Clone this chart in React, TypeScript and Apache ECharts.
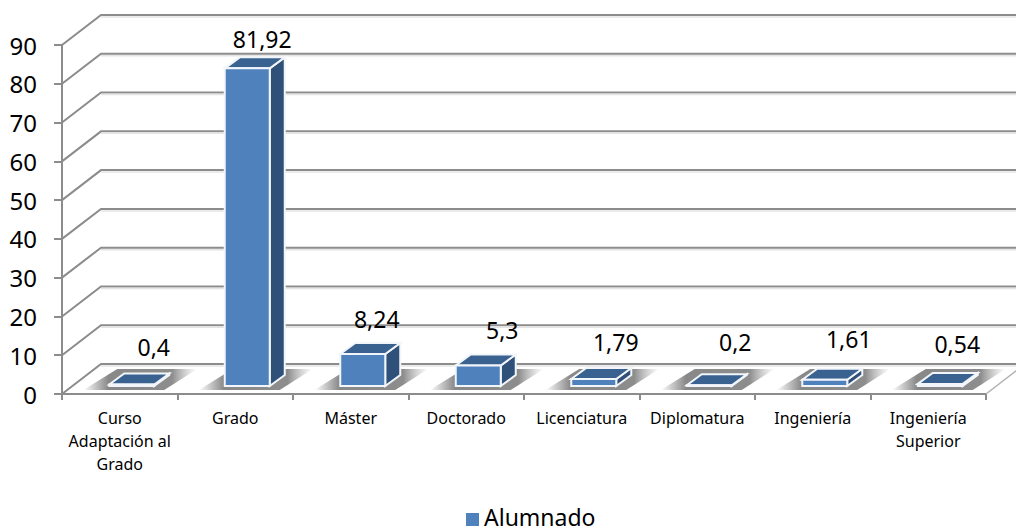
import React, { useEffect, useRef } from "react";
import * as echarts from "echarts";

const categories = ["Curso\nAdaptación al\nGrado", "Grado", "Máster", "Doctorado", "Licenciatura", "Diplomatura", "Ingeniería", "Ingeniería\nSuperior"];
const values = [0.4, 81.92, 8.24, 5.3, 1.79, 0.2, 1.61, 0.54];
const valueLabels = ["0,4", "81,92", "8,24", "5,3", "1,79", "0,2", "1,61", "0,54"];
const gridValues = [0, 10, 20, 30, 40, 50, 60, 70, 80, 90];
const seriesName = "Alumnado";

const labelNudgeX = [34, 27, 26, 36, 34, 38, 36, 29];
const labelNudgeY = [-37, -29, -35, -35, -37, -43, -41, -40];

const WALL_DX = 39, WALL_DY = -30;
const BAR_DX = 15, BAR_DY = -11;
const BAR_W = 45, BAR_SHIFT = 12, FLOOR_LIFT = 8;
const FONT = "'Noto Sans', sans-serif";
const GRID = "#8c8c8c";

export default function App() {
  const ref = useRef<HTMLDivElement>(null);
  useEffect(() => {
    const chart = echarts.init(ref.current!, null, { renderer: "svg" });
    const wallItem = (params: any, api: any) => {
      const cs = params.coordSys;
      const y = api.coord([0, api.value(1)])[1];
      const x0 = cs.x, x1 = cs.x + cs.width;
      const st = { stroke: GRID, lineWidth: 2, fill: "none" };
      return {
        type: "group",
        children: [
          { type: "polyline", shape: { points: [[x0, y], [x0 + WALL_DX, y + WALL_DY], [x1 + WALL_DX, y + WALL_DY]] }, style: st },
          { type: "line", shape: { x1: x0 + WALL_DX, y1: y + WALL_DY + 2, x2: x1 + WALL_DX, y2: y + WALL_DY + 2 }, style: { stroke: "#e4e4e4", lineWidth: 1.5 } },
          ...(api.value(1) === 0
            ? [{ type: "line", shape: { x1: x1, y1: y, x2: x1 + WALL_DX, y2: y + WALL_DY }, style: { stroke: "#b0b0b0", lineWidth: 1.5 } }]
            : []),
        ],
      };
    };
    const barItem = (params: any, api: any) => {
      const i = params.dataIndex;
      const c = api.coord([i, api.value(1)]);
      const base = api.coord([i, 0]);
      const l = c[0] - BAR_W / 2 + BAR_SHIFT, r = l + BAR_W;
      const b = base[1] - FLOOR_LIFT;
      const t = c[1] - FLOOR_LIFT;
      const edge = { stroke: "#f2f5fa", lineWidth: 2 };
      const shadow = new echarts.graphic.LinearGradient(0, 0, 1, 0, [
        { offset: 0, color: "rgba(130,130,130,0)" },
        { offset: 0.22, color: "rgba(130,130,130,0.95)" },
        { offset: 0.78, color: "rgba(135,135,135,0.95)" },
        { offset: 1, color: "rgba(170,170,170,0)" },
      ]);
      return {
        type: "group",
        children: [
          { type: "polygon", shape: { points: [[l - 26, base[1] - 4], [r + 10, base[1] - 4], [r + 43, base[1] - 25], [l + 8, base[1] - 25]] }, style: { fill: shadow } },
          { type: "polygon", shape: { points: [[r, b], [r + BAR_DX, b + BAR_DY], [r + BAR_DX, t + BAR_DY], [r, t]] }, style: { fill: "#2f5079", ...edge } },
          { type: "polygon", shape: { points: [[l, t], [l + BAR_DX, t + BAR_DY], [r + BAR_DX, t + BAR_DY], [r, t]] }, style: { fill: "#3a6291", ...edge } },
          { type: "rect", shape: { x: l, y: t, width: BAR_W, height: b - t }, style: { fill: "#4f81bd", ...edge } },
          { type: "text", x: c[0] + labelNudgeX[i], y: t + labelNudgeY[i], style: { text: valueLabels[i], fill: "#000", font: `23px ${FONT}`, align: "center", verticalAlign: "middle" } },
        ],
      };
    };
    chart.setOption({
      animation: false,
      grid: { left: 62, right: 30, top: 45, bottom: 134 },
      legend: {
        data: [seriesName], left: 461, top: 505, padding: [0, 5], itemWidth: 13, itemHeight: 13, icon: "rect", itemGap: 9,
        formatter: (n: string) => `{a|${n}}`,
        textStyle: { rich: { a: { fontFamily: FONT, fontSize: 23, color: "#000", lineHeight: 16, padding: [0, 0, 6, 0] } } },
      },
      xAxis: {
        type: "category", data: categories,
        axisLine: { lineStyle: { color: GRID, width: 2 } },
        axisTick: { show: true, length: 6, alignWithLabel: false, lineStyle: { color: GRID, width: 2 } },
        axisLabel: { interval: 0, margin: 12, fontFamily: FONT, fontSize: 16, color: "#000", lineHeight: 23, verticalAlign: "top" },
        splitLine: { show: false },
      },
      yAxis: {
        type: "value", min: 0, max: 90, interval: 10,
        axisLine: { show: true, lineStyle: { color: GRID, width: 2 } },
        axisTick: { show: true, length: 8, lineStyle: { color: GRID, width: 2 } },
        axisLabel: { margin: 25, fontFamily: FONT, fontSize: 24, color: "#000" },
        splitLine: { show: false },
      },
      series: [
        { type: "custom", name: "wall", silent: true, z: 1, renderItem: wallItem, data: gridValues.map((v) => [0, v]), encode: { x: 0, y: 1 } },
        { type: "custom", name: seriesName, z: 3, itemStyle: { color: "#4f81bd" }, renderItem: barItem, data: values.map((v, i) => [i, v]), encode: { x: 0, y: 1 } },
      ],
    });
    return () => chart.dispose();
  }, []);
  return <div ref={ref} style={{ position: "absolute", left: 0, top: 0, width: 1016, height: 528 }} />;
}
